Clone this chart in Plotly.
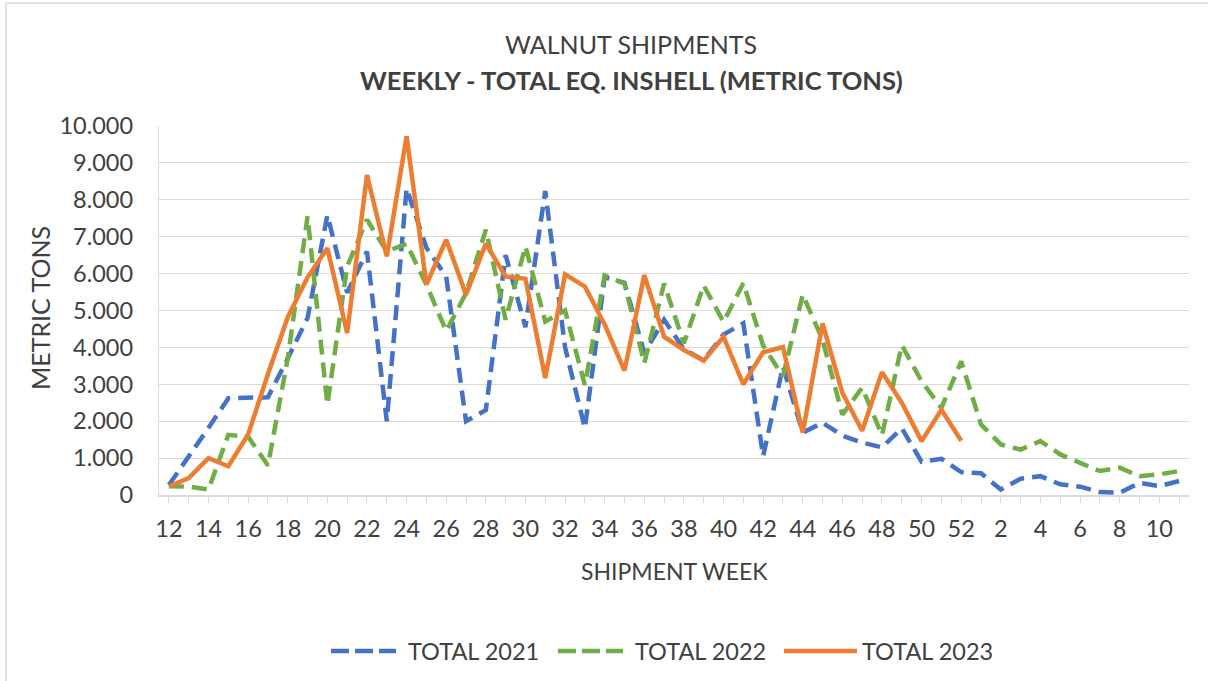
import plotly.graph_objects as go

weeks = [str(w) for w in list(range(12, 53)) + list(range(1, 12))]
tick_labels = [w if int(w) % 2 == 0 else "" for w in weeks]

total_2021 = [270, 1030, 1820, 2620, 2620, 2650, 3700, 4800, 7580, 5480,
              6600, 2000, 8310, 6700, 5920, 2000, 2300, 6500, 4550, 8240,
              4000, 1810, 5900, 5750, 3850, 4750, 3950, 3650, 4350, 4650,
              1050, 3480, 1690, 1960, 1610, 1420, 1290, 1810, 900, 980,
              620, 590, 150, 440, 510, 290, 225, 80, 60, 330, 240, 380]
total_2022 = [240, 230, 150, 1630, 1580, 800, 3700, 7550, 2450, 6200,
              7460, 6600, 6810, 5700, 4440, 5470, 7190, 4750, 6740, 4700,
              5000, 2980, 5950, 5730, 3570, 5730, 4110, 5680, 4690, 5740,
              4050, 3220, 5430, 4200, 2180, 2910, 1620, 4060, 3080, 2360,
              3620, 1910, 1370, 1230, 1460, 1100, 870, 650, 740, 510, 560, 650]
total_2023 = [230, 460, 1000, 780, 1640, 3280, 4820, 5900, 6690, 4390,
              8670, 6470, 9720, 5700, 6920, 5430, 6810, 5920, 5860, 3170,
              5980, 5650, 4620, 3370, 5960, 4290, 3930, 3640, 4290, 3000,
              3870, 4010, 1690, 4650, 2770, 1740, 3330, 2500, 1460, 2310, 1470]

series_names = ["TOTAL 2021", "TOTAL 2022", "TOTAL 2023"]
colors = ["#4472C4", "#70AD47", "#ED7D31"]
dashes = ["15px,8px", "15px,8px", "solid"]

FONT = "Lato"
TXT = "#404040"
W, H = 1208, 681
L, R, T, B = 159, 19, 126, 186
PW, PH = W - L - R, H - T - B

def px(x):
    return (x - L) / PW

def py(y):
    return (H - B - y) / PH

fig = go.Figure()
for name, vals, c, d in zip(series_names, [total_2021, total_2022, total_2023], colors, dashes):
    fig.add_trace(go.Scatter(
        x=weeks[:len(vals)], y=vals, mode="lines", name=name,
        line=dict(color=c, width=4.5, dash=d), showlegend=False,
    ))

annotations = [
    dict(text="WALNUT SHIPMENTS", x=px(631), y=py(44), xref="paper", yref="paper",
         showarrow=False, font=dict(family=FONT, size=25, color=TXT), xanchor="center", yanchor="middle"),
    dict(text="<b>WEEKLY - TOTAL EQ. INSHELL (METRIC TONS)</b>", x=px(631), y=py(80),
         xref="paper", yref="paper", showarrow=False,
         font=dict(family=FONT, size=25.5, color=TXT), xanchor="center", yanchor="middle"),
    dict(text="METRIC TONS", x=px(40), y=py(308), xref="paper", yref="paper", textangle=-90,
         showarrow=False, font=dict(family=FONT, size=25, color=TXT), xanchor="center", yanchor="middle"),
    dict(text="SHIPMENT WEEK", x=px(674), y=py(571), xref="paper", yref="paper",
         showarrow=False, font=dict(family=FONT, size=23, color=TXT), xanchor="center", yanchor="middle"),
]

shapes = [
    dict(type="rect", xref="paper", yref="paper", x0=px(6), x1=px(1215), y0=py(690), y1=py(3),
         line=dict(color="#d9d9d9", width=1.5), layer="below"),
]

# custom legend
leg_y = py(651)
leg_items = [(331, 396, 406), (558, 623, 633), (784, 857, 860)]
for (x0, x1, tx), name, c, d in zip(leg_items, series_names, colors, dashes):
    shapes.append(dict(type="line", xref="paper", yref="paper", x0=px(x0), x1=px(x1),
                       y0=leg_y, y1=leg_y, line=dict(color=c, width=4.5,
                       dash="18px,6px" if d != "solid" else "solid")))
    annotations.append(dict(text=name, x=px(tx), y=leg_y, xref="paper", yref="paper",
                            showarrow=False, xanchor="left", yanchor="middle",
                            font=dict(family=FONT, size=23.5, color=TXT)))

fig.update_layout(
    width=W, height=H,
    margin=dict(l=L, r=R, t=T, b=B, pad=0),
    paper_bgcolor="white", plot_bgcolor="white",
    font=dict(family=FONT, size=21, color=TXT),
    annotations=annotations, shapes=shapes,
    xaxis=dict(type="category", categoryorder="array", categoryarray=weeks,
               range=[-0.5, len(weeks) - 0.5],
               tickmode="array", tickvals=weeks, ticktext=tick_labels,
               ticks="outside", ticklen=6, tickcolor="#d9d9d9", tickwidth=1.3,
               showline=True, linecolor="#d9d9d9", linewidth=1.5,
               showgrid=False, zeroline=False, ticklabelstandoff=6,
               tickfont=dict(family=FONT, size=23.5, color=TXT)),
    yaxis=dict(range=[0, 10000], tickvals=list(range(0, 10001, 1000)),
               ticktext=["0"] + [f"{v // 1000}.000" for v in range(1000, 10001, 1000)],
               showgrid=True, gridcolor="#d9d9d9", gridwidth=1.3,
               showline=True, linecolor="#d9d9d9", linewidth=1.3,
               zeroline=False, ticks="", ticklabelstandoff=20,
               tickfont=dict(family=FONT, size=23.5, color=TXT)),
)

fig.write_html(
    "out.html",
    config={"displayModeBar": False},
    post_script="document.body.style.margin='0';document.body.style.padding='0';"
                "document.body.style.overflow='hidden';"
                "document.documentElement.style.overflow='hidden';",
)
